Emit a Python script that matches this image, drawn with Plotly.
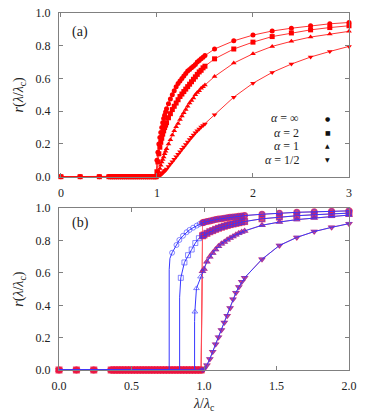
import plotly.graph_objects as go

# ---------------- Panel (a) data ----------------
xa_zero = [0.0, 0.2, 0.4, 0.5, 0.52, 0.54, 0.56, 0.58, 0.6, 0.62, 0.64, 0.66, 0.68, 0.7,
           0.72, 0.74, 0.76, 0.78, 0.8, 0.82, 0.84, 0.86, 0.88, 0.9, 0.92, 0.94, 0.96,
           0.98, 0.99]
xa_rise = [1.0, 1.01, 1.02, 1.03, 1.04, 1.05, 1.06, 1.07, 1.08, 1.09, 1.1,
           1.12, 1.14, 1.16, 1.18, 1.2, 1.22, 1.24, 1.26, 1.28, 1.3, 1.32, 1.34, 1.36,
           1.38, 1.4, 1.42, 1.44, 1.46, 1.48, 1.5,
           1.6, 1.8, 2.0, 2.2, 2.4, 2.6, 2.8, 3.0]
ya_inf = [0.10, 0.15, 0.20, 0.24, 0.27, 0.30, 0.33, 0.355, 0.375, 0.395, 0.415,
          0.445, 0.475, 0.50, 0.525, 0.55, 0.57, 0.585, 0.60, 0.615, 0.63, 0.645, 0.655,
          0.665, 0.675, 0.685, 0.70, 0.71, 0.72, 0.73, 0.74,
          0.78, 0.83, 0.865, 0.89, 0.907, 0.922, 0.934, 0.942]
ya_two = [0.03, 0.09, 0.14, 0.18, 0.21, 0.235, 0.26, 0.28, 0.30, 0.315, 0.33,
          0.36, 0.385, 0.41, 0.43, 0.45, 0.47, 0.49, 0.505, 0.52, 0.535, 0.55, 0.565,
          0.58, 0.595, 0.61, 0.625, 0.64, 0.65, 0.665, 0.675,
          0.72, 0.78, 0.822, 0.856, 0.878, 0.897, 0.911, 0.922]
ya_one = [0.0, 0.01, 0.03, 0.05, 0.07, 0.09, 0.105, 0.12, 0.14, 0.155, 0.17,
          0.20, 0.225, 0.255, 0.28, 0.305, 0.325, 0.35, 0.37, 0.39, 0.41, 0.43, 0.45,
          0.465, 0.48, 0.50, 0.515, 0.525, 0.54, 0.55, 0.56,
          0.612, 0.694, 0.751, 0.796, 0.827, 0.853, 0.871, 0.888]
ya_half = [0.0, 0.0, 0.004, 0.008, 0.012, 0.016, 0.022, 0.028, 0.034, 0.04, 0.047,
           0.062, 0.077, 0.092, 0.107, 0.122, 0.137, 0.152, 0.167, 0.182, 0.197, 0.212,
           0.227, 0.241, 0.255, 0.268, 0.28, 0.292, 0.303, 0.313, 0.322,
           0.378, 0.486, 0.571, 0.637, 0.688, 0.731, 0.765, 0.796]

# ---------------- Panel (b) data ----------------
xb_zero = [0.0, 0.12, 0.24, 0.36, 0.38, 0.4, 0.42, 0.44, 0.46, 0.48, 0.5, 0.52, 0.54,
           0.56, 0.58, 0.6, 0.62, 0.64, 0.66, 0.68, 0.7, 0.72, 0.74, 0.76, 0.78, 0.8,
           0.82, 0.84, 0.86, 0.88, 0.9, 0.92, 0.94, 0.96, 0.98]
xb_rise = [0.99, 1.0, 1.02, 1.04, 1.06, 1.08, 1.1, 1.12, 1.14, 1.16, 1.18, 1.2, 1.22,
           1.24, 1.26, 1.28, 1.4, 1.52, 1.64, 1.76, 1.88, 2.0]
yb_inf = [0.91, 0.913, 0.918, 0.922, 0.926, 0.93, 0.933, 0.936, 0.939, 0.942, 0.944,
          0.946, 0.948, 0.95, 0.952, 0.955, 0.963, 0.97, 0.975, 0.978, 0.981, 0.984]
yb_two = [0.83, 0.835, 0.845, 0.855, 0.862, 0.87, 0.877, 0.883, 0.889, 0.894, 0.899,
          0.903, 0.907, 0.911, 0.915, 0.918, 0.935, 0.946, 0.954, 0.96, 0.965, 0.97]
yb_one = [0.61, 0.625, 0.67, 0.70, 0.723, 0.745, 0.765, 0.78, 0.792, 0.805, 0.816,
          0.826, 0.836, 0.845, 0.853, 0.86, 0.895, 0.915, 0.93, 0.94, 0.95, 0.958]
yb_half = [0.0, 0.005, 0.03, 0.068, 0.113, 0.159, 0.203, 0.247, 0.293, 0.335, 0.383,
           0.437, 0.478, 0.513, 0.545, 0.57, 0.685, 0.77, 0.82, 0.856, 0.882, 0.905]

# theory (blue) curves: jump location, vertical part and pre-jump points
th_jump = {"inf": 0.76, "two": 0.832, "one": 0.935, "half": 0.99}
th_vert_x = {"inf": [0.76, 0.76, 0.765], "two": [0.832, 0.832, 0.835],
             "one": [0.935, 0.935], "half": []}
th_vert_y = {"inf": [0.0, 0.62, 0.69], "two": [0.0, 0.45, 0.52],
             "one": [0.0, 0.30], "half": []}
th_pre_x = {"inf": [0.78, 0.81, 0.83, 0.855, 0.88, 0.90, 0.925, 0.95, 0.97],
            "two": [0.84, 0.865, 0.89, 0.915, 0.94, 0.965],
            "one": [0.937, 0.948, 0.976], "half": []}
th_pre_y = {"inf": [0.725, 0.773, 0.804, 0.83, 0.852, 0.866, 0.88, 0.893, 0.903],
            "two": [0.57, 0.665, 0.71, 0.745, 0.785, 0.815],
            "one": [0.36, 0.505, 0.577], "half": []}

labels = ["α = ∞", "α = 2", "α = 1", "α = 1/2"]
keys = ["inf", "two", "one", "half"]
symbols = ["circle", "square", "triangle-up", "triangle-down"]
glyphs = ["●", "■", "▲", "▼"]

ya = {"inf": ya_inf, "two": ya_two, "one": ya_one, "half": ya_half}
yb = {"inf": yb_inf, "two": yb_two, "one": yb_one, "half": yb_half}

RED = "#ff0000"
SIM = "rgba(235,20,65,0.8)"
SIMLINE = "rgba(255,70,80,0.75)"
BLUE = "rgb(55,55,255)"
FONT = "Liberation Serif, DejaVu Serif, serif"

fig = go.Figure()

# panel (a)
for k, sym in zip(keys, symbols):
    xs = xa_zero + xa_rise
    ys = [0.0] * len(xa_zero) + ya[k]
    fig.add_trace(go.Scatter(
        x=xs, y=ys, mode="lines+markers", xaxis="x", yaxis="y",
        line=dict(color=RED, width=0.8),
        marker=dict(symbol=sym, size=5, color=RED, line=dict(width=0)),
        cliponaxis=False, showlegend=False))

# panel (b): simulation (red)
for k, sym in zip(keys, symbols):
    xs = xb_zero + xb_rise
    ys = [0.0] * len(xb_zero) + yb[k]
    fig.add_trace(go.Scatter(
        x=xs, y=ys, mode="lines+markers", xaxis="x2", yaxis="y2",
        line=dict(color=SIMLINE, width=1),
        marker=dict(symbol=sym, size=7, color=SIM, line=dict(width=0)),
        cliponaxis=False, showlegend=False))

# panel (b): theory (blue)
for k, sym in zip(keys, symbols):
    zx = [x for x in xb_zero if x < th_jump[k]]
    rx = [x for x in xb_rise if x >= th_jump[k]]
    ry = [y for x, y in zip(xb_rise, yb[k]) if x >= th_jump[k]]
    lx = zx + th_vert_x[k] + th_pre_x[k] + rx
    ly = [0.0] * len(zx) + th_vert_y[k] + th_pre_y[k] + ry
    fig.add_trace(go.Scatter(
        x=lx, y=ly, mode="lines", xaxis="x2", yaxis="y2",
        line=dict(color=BLUE, width=1), cliponaxis=False, showlegend=False))
    mx = th_pre_x[k] + rx
    my = th_pre_y[k] + ry
    fig.add_trace(go.Scatter(
        x=mx, y=my, mode="markers", xaxis="x2", yaxis="y2",
        marker=dict(symbol=sym + "-open", size=5, color="rgba(55,55,255,0.75)",
                    line=dict(width=0.8)),
        cliponaxis=False, showlegend=False))

AX = dict(showline=True, linecolor="#808080", linewidth=1, mirror="ticks",
          ticks="inside", ticklen=4, tickcolor="#808080", showgrid=False,
          zeroline=False, tickfont=dict(family=FONT, size=12, color="#222"),
          ticklabelstandoff=5, automargin=False, ticklabeloverflow="allow")
ytitle = "<i>r</i>(<i>λ</i>/<i>λ</i><sub>c</sub>)"

fig.update_layout(
    width=366, height=407,
    margin=dict(l=51, r=25, t=5, b=45),
    paper_bgcolor="white", plot_bgcolor="white",
    font=dict(family=FONT, size=13, color="#222"),
    xaxis=dict(AX, domain=[0, 1], range=[-0.02, 3], tickvals=[0, 1, 2, 3], anchor="y"),
    yaxis=dict(AX, domain=[0.5415, 1], range=[0, 1], dtick=0.2, tickformat=".1f",
               anchor="x", title=dict(text=ytitle, standoff=8, font=dict(size=14))),
    xaxis2=dict(AX, domain=[0, 1], range=[0, 2], dtick=0.5, tickformat=".1f", anchor="y2"),
    yaxis2=dict(AX, domain=[0, 0.453], range=[0, 1], dtick=0.2, tickformat=".1f",
                anchor="x2", title=dict(text=ytitle, standoff=8, font=dict(size=14))),
)

ann = []
ann.append(dict(text="<i>λ</i>/<i>λ</i><sub>c</sub>", x=0.5, y=-0.098, xref="paper",
                yref="paper", xanchor="center", yanchor="middle", showarrow=False,
                font=dict(family=FONT, size=14, color="#222")))
ann.append(dict(text="(a)", x=0.09, y=0.887, xref="x", yref="y", xanchor="left",
                yanchor="middle", showarrow=False, font=dict(family=FONT, size=14)))
ann.append(dict(text="(b)", x=0.074, y=0.909, xref="x2", yref="y2", xanchor="left",
                yanchor="middle", showarrow=False, font=dict(family=FONT, size=14)))
legend_y = [0.357, 0.269, 0.190, 0.102]
for lab, g, yy in zip(labels, glyphs, legend_y):
    a, rest = lab.split(" ", 1)
    ann.append(dict(text="<i>" + a + "</i> " + rest, x=2.505, y=yy, xref="x", yref="y",
                    xanchor="right", yanchor="middle", showarrow=False,
                    font=dict(family=FONT, size=12, color="#222")))
    ann.append(dict(text=g, x=2.78, y=yy, xref="x", yref="y", xanchor="center",
                    yanchor="middle", showarrow=False,
                    font=dict(family="DejaVu Sans", size=6, color="#111")))
fig.update_layout(annotations=ann)

fig.write_html("out.html")
